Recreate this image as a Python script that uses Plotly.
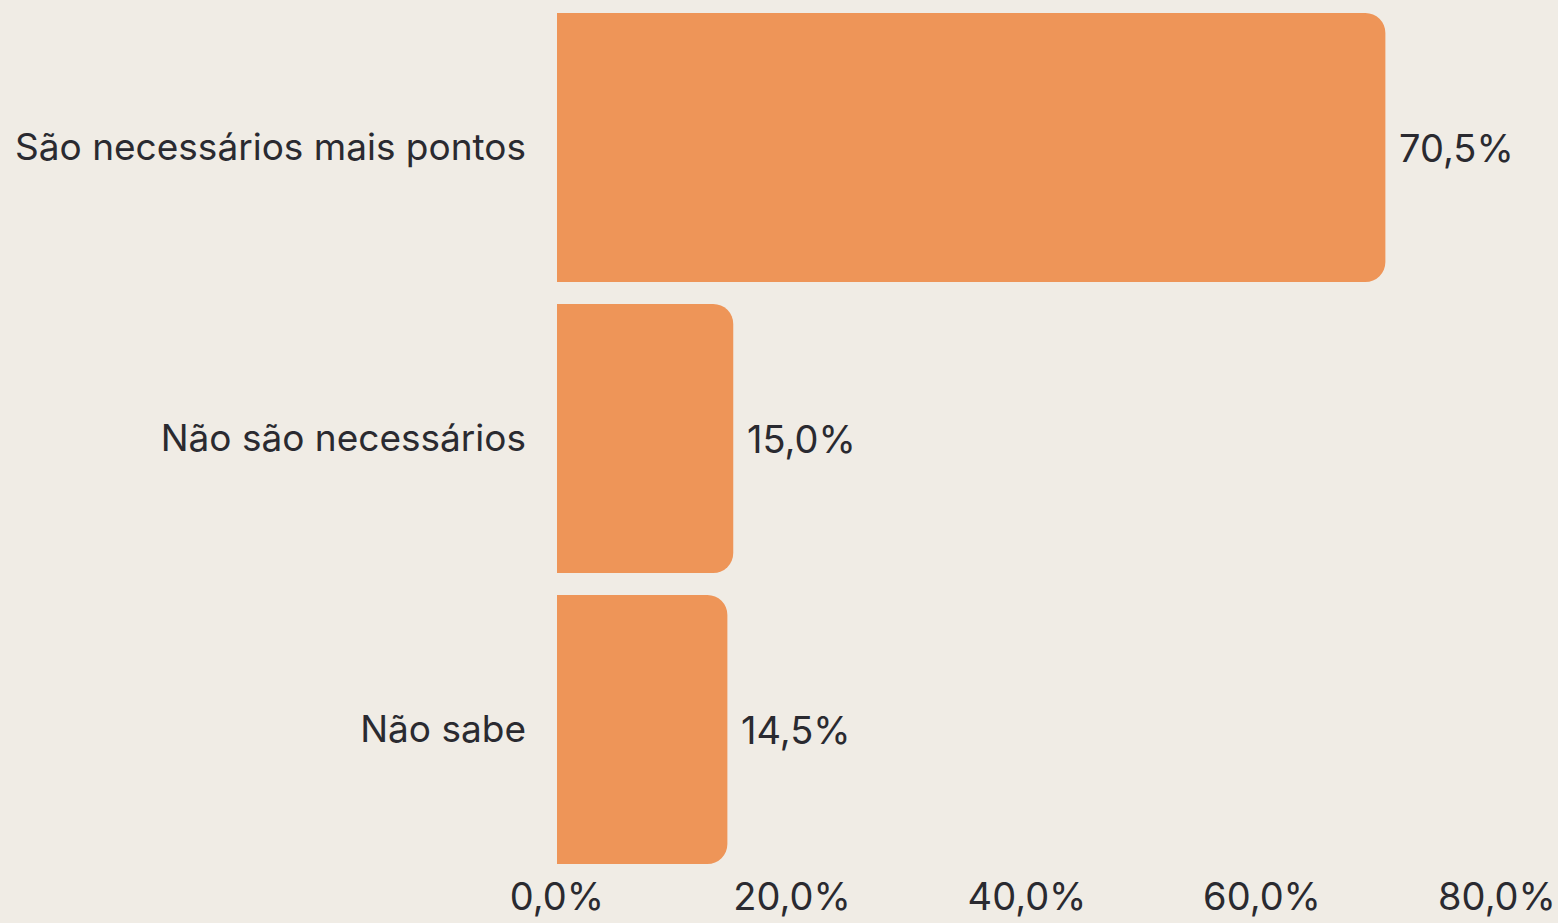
import plotly.graph_objects as go

categories = ["São necessários mais pontos", "Não são necessários", "Não sabe"]
values = [70.5, 15.0, 14.5]
value_labels = ["70,5%", "15,0%", "14,5%"]
tick_vals = [0, 20, 40, 60, 80]
tick_text = ["0,0%", "20,0%", "40,0%", "60,0%", "80,0%"]

BG = "#F0ECE5"
BAR = "#EE9558"
TXT = "#2A2A30"
FONT = "Inter"

fig = go.Figure(go.Bar(
    x=values, y=categories, orientation="h",
    marker=dict(color=BAR, cornerradius=20, line=dict(width=0)),
    hoverinfo="skip",
))

for c, v, t in zip(categories, values, value_labels):
    fig.add_annotation(x=v, y=c, text=t, showarrow=False, xanchor="left",
                       xshift=12, font=dict(family=FONT, size=38, color=TXT))

fig.update_layout(
    width=1558, height=923,
    paper_bgcolor=BG, plot_bgcolor=BG,
    margin=dict(l=557, r=61, t=2, b=48),
    bargap=0.0756,
    showlegend=False,
    font=dict(family=FONT, color=TXT),
    xaxis=dict(range=[0, 80], tickvals=tick_vals, ticktext=tick_text,
               showgrid=False, zeroline=False, showline=False,
               tickfont=dict(family=FONT, size=38, color=TXT), ticks="",
               ticklabeloverflow="allow", automargin=False,
               ticklabelstandoff=-4),
    yaxis=dict(autorange="reversed", showgrid=False, zeroline=False, showline=False,
               tickfont=dict(family=FONT, size=37, color=TXT), ticks="",
               ticklabelstandoff=30, automargin=False),
)

fig.write_html(
    "out.html",
    config={"displayModeBar": False},
    post_script="document.body.style.margin='0';document.body.style.overflow='hidden';",
)
